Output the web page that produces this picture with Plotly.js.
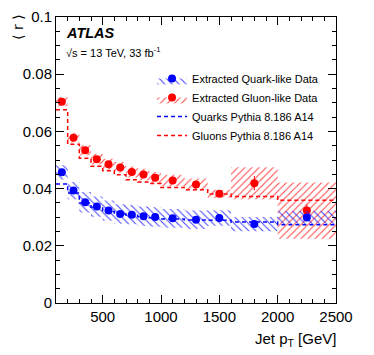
<!DOCTYPE html>
<html>
<head>
<meta charset="utf-8">
<script src="https://cdn.plot.ly/plotly-3.0.1.min.js"></script>
<style>
  body { margin: 0; background: #fff; }
  #chart { width: 374px; height: 355px; }
</style>
</head>
<body>
<div id="chart"></div>
<script>
// jet pT bins (GeV)
const binEdges = [100, 200, 300, 400, 500, 600, 700, 800, 900, 1000, 1200, 1400, 1600, 2000, 2500];
const binCenters = [150, 250, 350, 450, 550, 650, 750, 850, 950, 1100, 1300, 1500, 1800, 2250];

// extracted data
const quarkData = [0.0457, 0.0393, 0.0352, 0.0337, 0.0323, 0.0311, 0.0309, 0.0303, 0.0301, 0.0296, 0.0291, 0.0297, 0.0276, 0.0299];
const quarkStat = [0.0006, 0.0005, 0.0004, 0.0004, 0.0004, 0.0004, 0.0004, 0.0004, 0.0004, 0.0004, 0.0005, 0.0006, 0.0008, 0.0012];
const quarkSyst = [0.0025, 0.0030, 0.0036, 0.0035, 0.0035, 0.0034, 0.0034, 0.0034, 0.0034, 0.0033, 0.0032, 0.0027, 0.0025, 0.0023];

const gluonData = [0.0704, 0.0578, 0.0534, 0.0503, 0.0485, 0.0474, 0.0458, 0.0449, 0.0438, 0.0428, 0.0414, 0.0382, 0.0419, 0.0323];
const gluonStat = [0.0006, 0.0005, 0.0004, 0.0004, 0.0004, 0.0004, 0.0004, 0.0004, 0.0004, 0.0005, 0.0006, 0.0007, 0.0025, 0.0022];
const gluonSyst = [0.0016, 0.0017, 0.0018, 0.0019, 0.0019, 0.0019, 0.0019, 0.0020, 0.0020, 0.0020, 0.0021, 0.0014, 0.0056, 0.0098];

// Pythia 8.186 A14 predictions
const quarkMC = [0.0416, 0.0385, 0.0350, 0.0335, 0.0320, 0.0311, 0.0307, 0.0302, 0.0298, 0.0294, 0.0290, 0.0289, 0.0283, 0.0274];
const gluonMC = [0.0676, 0.0555, 0.0506, 0.0478, 0.0462, 0.0448, 0.0431, 0.0423, 0.0418, 0.0404, 0.0396, 0.0381, 0.0372, 0.0359];

const FONT = "Liberation Sans, Arial, Helvetica, sans-serif";

// one trace per data set: the point, then its systematic box, for every bin
function dataTrace(name, vals, stat, syst, color, hatchColor, hatch, rank) {
  const x = [], y = [], cols = [], err = [];
  const clear = "rgba(0,0,0,0)";
  vals.forEach((v, i) => {
    x.push(binCenters[i], null);
    y.push(v, null);
    cols.push(color, clear);
    err.push(stat[i], 0);
    const lo = v - syst[i], hi = v + syst[i];
    const x0 = binEdges[i], x1 = binEdges[i + 1];
    x.push(x0, x1, x1, x0, x0, null);
    y.push(lo, lo, hi, hi, lo, null);
    cols.push(clear, clear, clear, clear, clear, clear);
    err.push(0, 0, 0, 0, 0, 0);
  });
  return {
    x: x, y: y, name: name, type: "scatter", mode: "markers",
    connectgaps: false,
    fill: "toself",
    fillcolor: "rgba(0,0,0,0)",
    fillpattern: { shape: hatch, fgcolor: hatchColor, bgcolor: "rgba(0,0,0,0)", size: 5, solidity: 0.2 },
    marker: { color: cols, size: 8, symbol: "circle", line: { width: 0 } },
    error_y: { type: "data", array: err, visible: true, color: color, thickness: 1, width: 0 },
    legendrank: rank,
    hoverinfo: "skip"
  };
}

// MC histogram drawn as a step line
function mcTrace(name, vals, color, rank) {
  return {
    x: binEdges,
    y: vals.concat([vals[vals.length - 1]]),
    name: name, type: "scatter", mode: "lines",
    line: { shape: "hv", color: color, width: 1.5, dash: "4px,3px" },
    legendrank: rank,
    hoverinfo: "skip"
  };
}

const traces = [
  mcTrace("Quarks Pythia 8.186 A14", quarkMC, "#0000ff", 3),
  mcTrace("Gluons Pythia 8.186 A14", gluonMC, "#ff0000", 4),
  dataTrace("Extracted Gluon-like Data", gluonData, gluonStat, gluonSyst, "#ff0000", "rgba(255,30,30,0.85)", "/", 2),
  dataTrace("Extracted Quark-like Data", quarkData, quarkStat, quarkSyst, "#0000ff", "rgba(30,30,255,0.85)", "\\", 1)
];

const axisStyle = {
  showline: true, linecolor: "#000", linewidth: 1, mirror: "allticks",
  ticks: "inside", ticklen: 8, tickcolor: "#000", tickwidth: 1,
  showgrid: false, zeroline: false,
  tickfont: { family: FONT, size: 15, color: "#000" }
};

const layout = {
  width: 374, height: 355,
  margin: { l: 56, r: 38, t: 17, b: 52 },
  paper_bgcolor: "#fff", plot_bgcolor: "#fff",
  showlegend: true,
  legend: {
    x: 0.343, y: 0.836, xanchor: "left", yanchor: "top",
    bgcolor: "rgba(0,0,0,0)", borderwidth: 0,
    font: { family: FONT, size: 11, color: "#000" },
    tracegroupgap: 0
  },
  xaxis: Object.assign({}, axisStyle, {
    range: [100, 2500], tick0: 0, dtick: 500,
    minor: { dtick: 100, ticklen: 4, ticks: "inside", tickcolor: "#000" }
  }),
  yaxis: Object.assign({}, axisStyle, {
    range: [0, 0.1], tick0: 0, dtick: 0.02,
    minor: { dtick: 0.005, ticklen: 4, ticks: "inside", tickcolor: "#000" }
  }),
  annotations: [
    { text: "<b><i>ATLAS</i></b>", xref: "paper", yref: "paper", x: 0.029, y: 0.944,
      xanchor: "left", yanchor: "middle", showarrow: false,
      font: { family: FONT, size: 14.5, color: "#000" } },
    { text: "√s = 13 TeV, 33 fb<sup>-1</sup>", xref: "paper", yref: "paper", x: 0.029, y: 0.878,
      xanchor: "left", yanchor: "middle", showarrow: false,
      font: { family: FONT, size: 11, color: "#000" } },
    { text: "⟨ r ⟩", xref: "paper", yref: "paper", x: -0.136, y: 0.965,
      xanchor: "center", yanchor: "middle", textangle: -90, showarrow: false,
      font: { family: "DejaVu Sans, " + FONT, size: 14, color: "#000" } },
    { text: "Jet p<sub>T</sub> [GeV]", xref: "paper", yref: "paper", x: 1.007, y: -0.128,
      xanchor: "right", yanchor: "middle", showarrow: false,
      font: { family: FONT, size: 15, color: "#000" } }
  ]
};

Plotly.newPlot("chart", traces, layout, { staticPlot: true, displayModeBar: false });
</script>
</body>
</html>
